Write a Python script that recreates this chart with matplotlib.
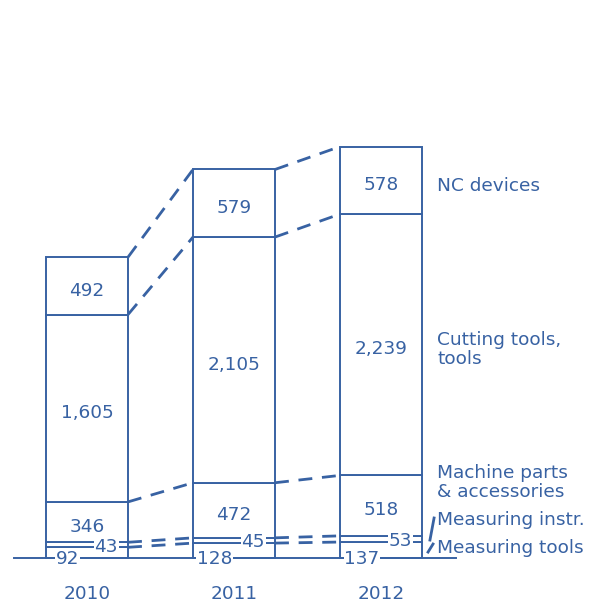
#!/usr/bin/python3
# -*- coding: utf-8 -*-
import numpy as np
import matplotlib
matplotlib.use('Agg')
import matplotlib.pyplot as plt

# datos
years = ['2010', '2011', '2012']
categories = ['Measuring tools', 'Measuring instr.', 'Machine parts\n& accessories',
              'Cutting tools,\ntools', 'NC devices']
measuring_tools = [92, 128, 137]
measuring_instr = [43, 45, 53]
machine_parts = [346, 472, 518]
cutting_tools = [1605, 2105, 2239]
nc_devices = [492, 579, 578]
value_labels = [['92', '128', '137'], ['43', '45', '53'], ['346', '472', '518'],
                ['1,605', '2,105', '2,239'], ['492', '579', '578']]

COLOR = '#3862a3'
FS = 13.3
plt.rcParams['font.family'] = ['DejaVu Sans']

fig = plt.figure(figsize=(5.94, 6.06), dpi=100)
ax = fig.add_axes([0, 0, 1, 1])
ax.set_xlim(-0.592, 3.449)
ax.set_ylim(-411, 4781)
ax.axis('off')

series = np.array([measuring_tools, measuring_instr, machine_parts, cutting_tools, nc_devices])
bottoms = np.vstack([np.zeros(3), np.cumsum(series, axis=0)[:-1]])
tops = np.cumsum(series, axis=0)
x = np.arange(len(years))
w = 0.558

for k in range(series.shape[0]):
    ax.bar(x, series[k], w, bottom=bottoms[k], color='white', edgecolor=COLOR,
           linewidth=1.4, zorder=2)

# linea base
ax.plot([-0.497, 2.51], [0, 0], color=COLOR, lw=1.4, zorder=3)

# conectores punteados
for i in range(len(years) - 1):
    for k in range(series.shape[0]):
        ax.plot([x[i] + w / 2, x[i + 1] - w / 2], [tops[k, i], tops[k, i + 1]],
                color=COLOR, lw=2, dashes=(5, 3.5), zorder=1)

# etiquetas de valores
bb = dict(facecolor='white', edgecolor='none', pad=0.5)
for i in range(len(years)):
    for k in range(series.shape[0]):
        mid = bottoms[k, i] + series[k, i] / 2
        if k == 0:
            ax.text(x[i] - 0.13, -10, value_labels[k][i], color=COLOR, fontsize=FS,
                    ha='center', va='center', bbox=bb, zorder=4)
        elif k == 1:
            ax.text(x[i] + 0.13, mid - 15, value_labels[k][i], color=COLOR, fontsize=FS,
                    ha='center', va='center', bbox=bb, zorder=4)
        else:
            ax.text(x[i], mid - 40, value_labels[k][i], color=COLOR, fontsize=FS,
                    ha='center', va='center', zorder=4)
    ax.text(x[i], -308, years[i], color=COLOR, fontsize=FS, ha='center', va='center')

# leyenda a la derecha
lx = 2.381
label_y = [88, 325, 650, 1790, 3188]
for k in range(series.shape[0]):
    ax.text(lx, label_y[k], categories[k], color=COLOR, fontsize=FS, ha='left',
            va='center', linespacing=1.08)

# lineas guia de las etiquetas chicas
ax.plot([2.333, 2.361], [154, 343], color=COLOR, lw=2)
ax.plot([2.32, 2.354], [51, 120], color=COLOR, lw=2)

fig.savefig('out.png', dpi=100)
